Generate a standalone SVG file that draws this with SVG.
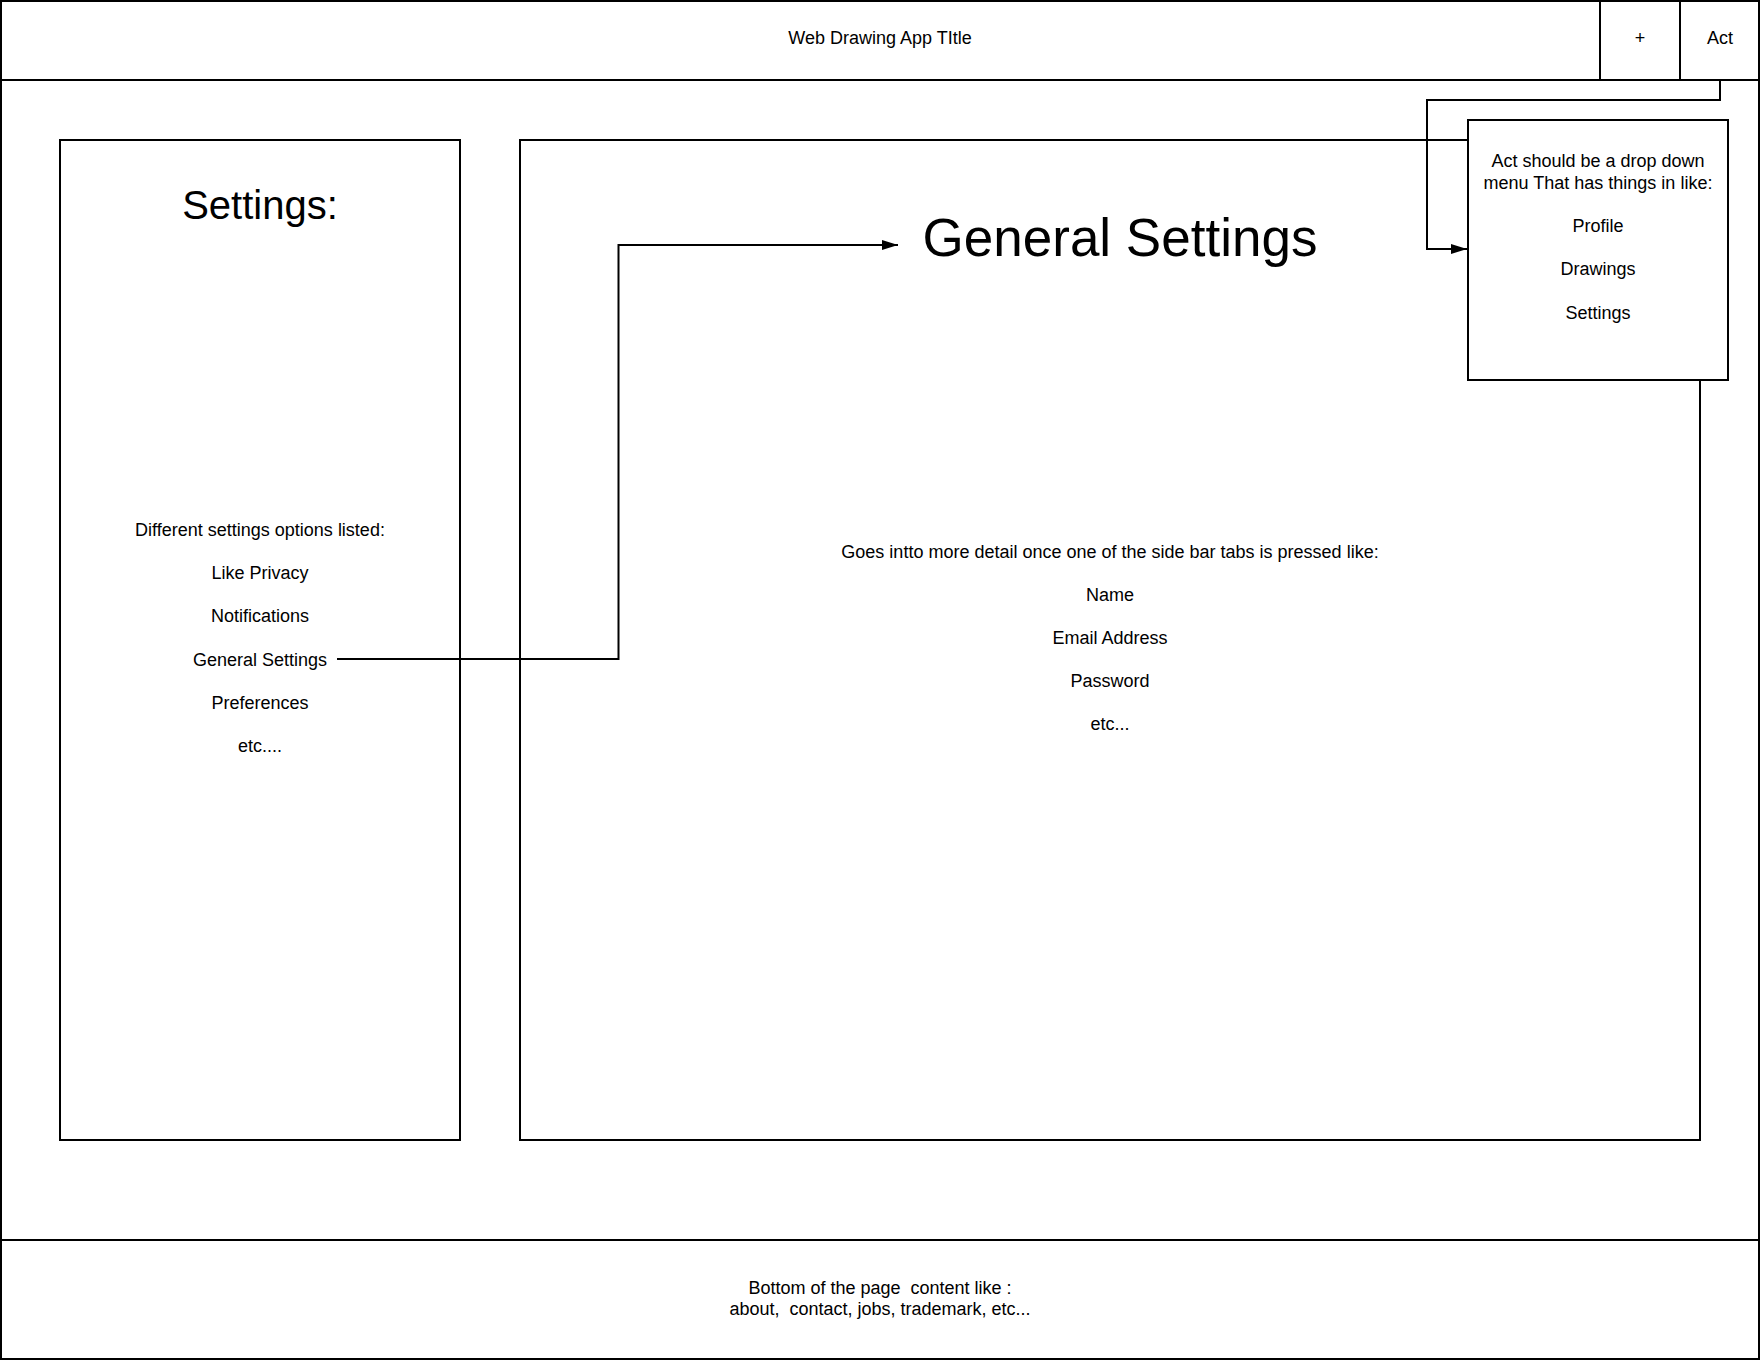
<svg xmlns="http://www.w3.org/2000/svg" width="1760" height="1360" viewBox="0 0 1760 1360">
<style>
.box{fill:#fff;stroke:#000;stroke-width:2}
.ln{fill:none;stroke:#000;stroke-width:2}
text{font-family:"Liberation Sans",Arial,sans-serif;fill:#000;text-anchor:middle;white-space:pre}
.s{font-size:18px}
.h{font-size:40px}
.xl{font-size:53px}
</style>
<defs>
<marker id="arr" viewBox="0 0 16 10" refX="16" refY="5" markerWidth="16" markerHeight="10" markerUnits="userSpaceOnUse" orient="auto">
<path d="M0,0 L16,5 L0,10 Z" fill="#000"/>
</marker>
</defs>
<rect width="1760" height="1360" fill="#fff"/>
<g id="page"><rect class="box" x="1" y="1" width="1758" height="1358"/></g>
<g id="header">
<line class="ln" x1="0" y1="80" x2="1760" y2="80"/>
<text class="s" x="880" y="44">Web Drawing App TItle</text>
</g>
<g id="plus-button">
<rect class="box" x="1600" y="1" width="80" height="79"/>
<text class="s" x="1640" y="44">+</text>
</g>
<g id="act-button">
<rect class="box" x="1680" y="1" width="79" height="79"/>
<text class="s" x="1720" y="44">Act</text>
</g>
<g id="sidebar">
<rect class="box" x="60" y="140" width="400" height="1000"/>
<text class="h" x="260" y="219">Settings:</text>
<text class="s" x="260" y="536">Different settings options listed:</text>
<text class="s" x="260" y="579.2">Like Privacy</text>
<text class="s" x="260" y="622.4">Notifications</text>
<text class="s" x="260" y="665.6">General Settings</text>
<text class="s" x="260" y="708.8">Preferences</text>
<text class="s" x="260" y="752">etc....</text>
</g>
<g id="main-content">
<rect class="box" x="520" y="140" width="1180" height="1000"/>
<text class="xl" x="1120" y="256">General Settings</text>
<text class="s" x="1110" y="557.5">Goes intto more detail once one of the side bar tabs is pressed like:</text>
<text class="s" x="1110" y="600.7">Name</text>
<text class="s" x="1110" y="643.9">Email Address</text>
<text class="s" x="1110" y="687.1">Password</text>
<text class="s" x="1110" y="730.3">etc...</text>
</g>
<g id="footer">
<line class="ln" x1="0" y1="1240" x2="1760" y2="1240"/>
<text class="s" x="880" y="1293.5" xml:space="preserve">Bottom of the page  content like :</text>
<text class="s" x="880" y="1315" xml:space="preserve">about,  contact, jobs, trademark, etc...</text>
</g>
<g id="connectors">
<polyline class="ln" points="337,659 618.5,659 618.5,245 898,245" marker-end="url(#arr)"/>
<polyline class="ln" points="1720,80 1720,100 1427,100 1427,249 1467,249" marker-end="url(#arr)"/>
</g>
<g id="dropdown-note">
<rect class="box" x="1468" y="120" width="260" height="260"/>
<text class="s" x="1598" y="167">Act should be a drop down</text>
<text class="s" x="1598" y="188.5">menu That has things in like:</text>
<text class="s" x="1598" y="232">Profile</text>
<text class="s" x="1598" y="275.2">Drawings</text>
<text class="s" x="1598" y="318.5">Settings</text>
</g>
</svg>
